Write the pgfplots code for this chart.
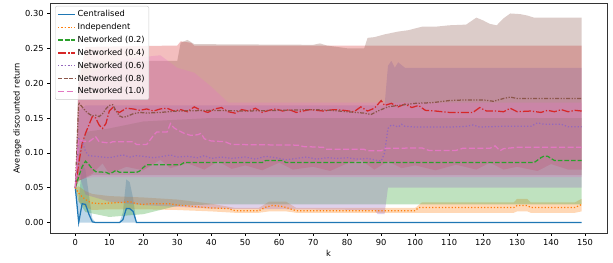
\documentclass[border=0pt]{standalone}
\usepackage{fontspec}
\setmainfont{DejaVu Sans}
\usepackage{pgfplots}
\pgfplotsset{compat=1.18}
\usepgfplotslibrary{fillbetween}
\definecolor{c0}{HTML}{1F77B4}
\definecolor{c1}{HTML}{FF7F0E}
\definecolor{c2}{HTML}{2CA02C}
\definecolor{c3}{HTML}{D62728}
\definecolor{c4}{HTML}{9467BD}
\definecolor{c5}{HTML}{8C564B}
\definecolor{c6}{HTML}{E377C2}
\begin{document}
\begin{tikzpicture}
\begin{axis}[
  scale only axis, width=557bp, height=230bp,
  xmin=-7.45, xmax=156.45, ymin=-0.015, ymax=0.315,
  xtick={0,10,20,30,40,50,60,70,80,90,100,110,120,130,140,150},
  ytick={0,0.05,0.1,0.15,0.2,0.25,0.3},
  yticklabel style={/pgf/number format/.cd, fixed, fixed zerofill, precision=2},
  /pgf/number format/assume math mode=true,
  tick align=outside, xtick pos=bottom, ytick pos=left,
  major tick length=2.9bp,
  every tick/.style={black, line width=0.6bp},
  axis line style={line width=0.65bp, black!80},
  font=\fontsize{8.33}{10}\selectfont,
  xlabel={k}, ylabel={Average discounted return},
  xlabel style={yshift=2bp}, ylabel style={yshift=-3bp},
  legend cell align=left,
  legend style={at={(0.009,0.987)}, anchor=north west, fill=white, fill opacity=0.8,
    draw opacity=1, text opacity=1, draw=black!20, rounded corners=2bp,
    font=\fontsize{8.33}{10}\selectfont, row sep=1.1bp, inner sep=2.2bp},
]
% ---------- bands ----------
% Centralised
\addplot[draw=none, name path=aH, forget plot] coordinates {(0,0.050) (1,0.030) (2,0.085) (3,0.075) (4,0.040) (5,0.006) (6,0) (13,0) (14,0.015) (15,0.062) (16,0.058) (17,0.035) (18,0) (149,0)};
\addplot[draw=none, name path=aL, forget plot] coordinates {(0,0.050) (1,0) (149,0)};
\addplot[fill=c0, fill opacity=0.3, draw=none, forget plot] fill between[of=aH and aL];
% Independent
\addplot[draw=none, name path=bH, forget plot] coordinates {(0,0.050) (1,0.052) (3,0.045) (5,0.041) (10,0.038) (20,0.036) (30,0.033) (40,0.027) (47,0.021) (54,0.021) (57,0.030) (62,0.030) (65,0.021) (100,0.021) (102,0.029) (129,0.029) (130,0.034) (133,0.034) (134,0.029) (147,0.029) (149,0.034)};
\addplot[draw=none, name path=bL, forget plot] coordinates {(0,0.050) (1,0.030) (3,0.022) (5,0.018) (10,0.019) (20,0.019) (30,0.018) (40,0.016) (47,0.014) (54,0.014) (57,0.016) (62,0.016) (65,0.014) (100,0.014) (102,0.014) (129,0.014) (130,0.016) (133,0.016) (134,0.014) (147,0.014) (149,0.016)};
\addplot[fill=c1, fill opacity=0.3, draw=none, forget plot] fill between[of=bH and bL];
% Networked 0.2
\addplot[draw=none, name path=cH, forget plot] coordinates {(0,0.050) (1,0.100) (3,0.130) (10,0.135) (20,0.145) (40,0.150) (149,0.150)};
\addplot[draw=none, name path=cL, forget plot] coordinates {(0,0.050) (1,0.030) (3,0.015) (10,0.008) (20,0.012) (30,0.024) (40,0.026) (149,0.026)};
\addplot[fill=c2, fill opacity=0.3, draw=none, forget plot] fill between[of=cH and cL];
% Networked 0.4
\addplot[draw=none, name path=dH, forget plot] coordinates {(0,0.050) (1,0.200) (3,0.252) (30,0.254) (31,0.260) (34,0.258) (35,0.254) (149,0.254)};
\addplot[draw=none, name path=dL, forget plot] coordinates {(0,0.050) (1,0.060) (3,0.065) (5,0.070) (8,0.085) (10,0.070) (15,0.080) (20,0.075) (25,0.090) (28,0.078) (33,0.085) (38,0.076) (42,0.088) (46,0.077) (50,0.082) (55,0.075) (60,0.086) (64,0.076) (70,0.080) (75,0.074) (80,0.085) (84,0.090) (88,0.076) (92,0.088) (96,0.078) (100,0.082) (106,0.075) (112,0.083) (118,0.076) (122,0.086) (126,0.076) (130,0.080) (136,0.074) (140,0.084) (145,0.076) (149,0.076)};
\addplot[fill=c3, fill opacity=0.3, draw=none, forget plot] fill between[of=dH and dL];
% Networked 0.6
\addplot[draw=none, name path=eH, forget plot] coordinates {(0,0.050) (1,0.160) (3,0.168) (40,0.168) (91,0.168) (92,0.225) (93,0.232) (94,0.222) (95,0.230) (97,0.222) (149,0.222)};
\addplot[draw=none, name path=eL, forget plot] coordinates {(0,0.050) (1,0.070) (3,0.040) (10,0.030) (20,0.025) (40,0.020) (88,0.018) (89,0.012) (91,0.012) (92,0.050) (149,0.050)};
\addplot[fill=c4, fill opacity=0.3, draw=none, forget plot] fill between[of=eH and eL];
% Networked 0.8
\addplot[draw=none, name path=fH, forget plot] coordinates {(0,0.050) (1,0.225) (5,0.232) (30,0.232) (31,0.258) (33,0.262) (35,0.256) (70,0.255) (72,0.257) (74,0.254) (80,0.250) (85,0.250) (86,0.265) (88,0.266) (91,0.270) (95,0.274) (98,0.276) (102,0.281) (106,0.281) (110,0.283) (115,0.284) (118,0.294) (120,0.290) (122,0.285) (124,0.283) (126,0.293) (128,0.300) (131,0.299) (133,0.297) (135,0.294) (149,0.294)};
\addplot[draw=none, name path=fL, forget plot] coordinates {(0,0.050) (1,0.060) (5,0.068) (149,0.068)};
\addplot[fill=c5, fill opacity=0.3, draw=none, forget plot] fill between[of=fH and fL];
% Networked 1.0
\addplot[draw=none, name path=gH, forget plot] coordinates {(0,0.050) (1,0.200) (5,0.215) (15,0.235) (25,0.240) (30,0.222) (35,0.215) (40,0.195) (45,0.172) (149,0.172)};
\addplot[draw=none, name path=gL, forget plot] coordinates {(0,0.050) (1,0.062) (5,0.065) (149,0.065)};
\addplot[fill=c6, fill opacity=0.3, draw=none, forget plot] fill between[of=gH and gL];
% ---------- means ----------
\addplot[c0, line width=1.25bp] coordinates {(0,0.050) (1,0) (2,0.027) (3,0.026) (4,0.012) (5,0.001) (6,0) (13,0) (14,0.004) (15,0.020) (16,0.020) (17,0.016) (18,0) (149,0)};
\addlegendentry{Centralised}
\addplot[c1, line width=1.25bp, dash pattern=on 1.25bp off 2bp] coordinates {(0,0.050) (1,0.042) (2,0.037) (3,0.033) (4,0.030) (5,0.028) (8,0.027) (10,0.028) (14,0.029) (16,0.030) (18,0.027) (20,0.026) (22,0.027) (28,0.027) (30,0.025) (35,0.023) (40,0.021) (45,0.020) (47,0.017) (54,0.017) (56,0.022) (58,0.0245) (61,0.023) (63,0.020) (65,0.017) (100,0.017) (101,0.0215) (129,0.0215) (130,0.0245) (133,0.0245) (134,0.0215) (147,0.0215) (149,0.026)};
\addlegendentry{Independent}
\addplot[c2, line width=1.25bp, dash pattern=on 4.6bp off 2bp] coordinates {(0,0.050) (1,0.066) (2,0.080) (3,0.088) (4,0.083) (5,0.077) (6,0.073) (9,0.072) (10,0.070) (11,0.072) (12,0.075) (13,0.072) (18,0.072) (19,0.074) (20,0.079) (21,0.083) (31,0.083) (32,0.086) (55,0.086) (56,0.089) (61,0.089) (62,0.086) (135,0.086) (137,0.093) (138,0.0955) (139,0.095) (140,0.092) (141,0.089) (149,0.089)};
\addlegendentry{Networked (0.2)}
\addplot[c3, line width=1.25bp, dash pattern=on 8bp off 2bp on 1.25bp off 2bp] coordinates {(0,0.050) (1,0.085) (2,0.113) (3,0.128) (4,0.140) (5,0.152) (6,0.150) (7,0.140) (8,0.135) (9,0.142) (10,0.160) (11,0.165) (12,0.160) (13,0.158) (15,0.164) (17,0.163) (19,0.161) (21,0.163) (23,0.160) (25,0.163) (27,0.164) (29,0.160) (31,0.162) (33,0.159) (35,0.166) (37,0.161) (39,0.158) (41,0.163) (43,0.165) (45,0.159) (47,0.157) (49,0.162) (51,0.160) (53,0.164) (55,0.158) (57,0.161) (59,0.163) (61,0.160) (63,0.162) (65,0.158) (67,0.160) (69,0.162) (71,0.161) (73,0.160) (76,0.162) (79,0.161) (82,0.159) (84,0.166) (86,0.160) (88,0.164) (90,0.175) (91,0.168) (93,0.171) (95,0.166) (97,0.170) (99,0.165) (101,0.168) (103,0.161) (106,0.160) (110,0.158) (117,0.158) (119,0.165) (121,0.160) (124,0.160) (126,0.159) (128,0.164) (130,0.159) (134,0.160) (137,0.158) (139,0.161) (141,0.159) (143,0.162) (145,0.159) (147,0.161) (149,0.160)};
\addlegendentry{Networked (0.4)}
\addplot[c4, line width=1.25bp, dash pattern=on 1.25bp off 2bp] coordinates {(0,0.050) (1,0.120) (2,0.117) (3,0.102) (4,0.096) (6,0.095) (8,0.094) (10,0.093) (12,0.095) (14,0.097) (16,0.094) (18,0.096) (20,0.095) (23,0.093) (26,0.095) (28,0.097) (30,0.094) (33,0.095) (36,0.093) (38,0.096) (40,0.092) (43,0.094) (46,0.092) (50,0.094) (53,0.091) (56,0.095) (59,0.093) (62,0.090) (65,0.092) (68,0.094) (71,0.091) (74,0.093) (77,0.092) (80,0.093) (83,0.091) (86,0.092) (88,0.090) (90,0.088) (91,0.100) (92,0.135) (93,0.140) (94,0.139) (95,0.137) (96,0.141) (97,0.138) (100,0.137) (110,0.137) (115,0.138) (117,0.140) (119,0.137) (125,0.138) (134,0.138) (136,0.143) (138,0.141) (143,0.141) (145,0.1375) (149,0.1375)};
\addlegendentry{Networked (0.6)}
\addplot[c5, line width=1.25bp, dash pattern=on 4bp off 1.5bp on 1.25bp off 1.5bp on 1.25bp off 1.5bp] coordinates {(0,0.050) (1,0.172) (2,0.166) (3,0.160) (4,0.156) (5,0.153) (6,0.154) (7,0.152) (8,0.156) (9,0.163) (10,0.168) (11,0.169) (12,0.160) (13,0.153) (14,0.151) (15,0.152) (17,0.156) (19,0.158) (21,0.157) (25,0.158) (30,0.160) (40,0.161) (50,0.160) (60,0.161) (70,0.162) (75,0.161) (80,0.159) (85,0.157) (87,0.155) (89,0.160) (92,0.166) (95,0.168) (100,0.171) (105,0.172) (110,0.175) (115,0.176) (120,0.176) (123,0.174) (126,0.178) (128,0.180) (130,0.178) (149,0.178)};
\addlegendentry{Networked (0.8)}
\addplot[c6, line width=1.25bp, dash pattern=on 6bp off 2.5bp] coordinates {(0,0.050) (1,0.120) (2,0.117) (4,0.116) (6,0.123) (7,0.116) (10,0.114) (11,0.116) (17,0.116) (18,0.112) (21,0.112) (23,0.125) (24,0.130) (27,0.130) (28,0.142) (29,0.136) (30,0.133) (32,0.128) (34,0.125) (36,0.126) (37,0.128) (38,0.120) (40,0.117) (44,0.116) (45,0.114) (46,0.112) (66,0.111) (67,0.109) (73,0.108) (74,0.105) (85,0.105) (86,0.103) (90,0.103) (91,0.1065) (102,0.107) (104,0.1035) (112,0.1035) (114,0.1065) (122,0.1065) (123.5,0.110) (125,0.103) (126,0.106) (130,0.108) (149,0.108)};
\addlegendentry{Networked (1.0)}
\end{axis}
\path (current axis.south west) ++(-50bp,-30bp) coordinate (bbA);
\path (current axis.north east) ++(6bp,3bp) coordinate (bbB);
\path (bbA) rectangle (bbB);
\end{tikzpicture}
\end{document}
